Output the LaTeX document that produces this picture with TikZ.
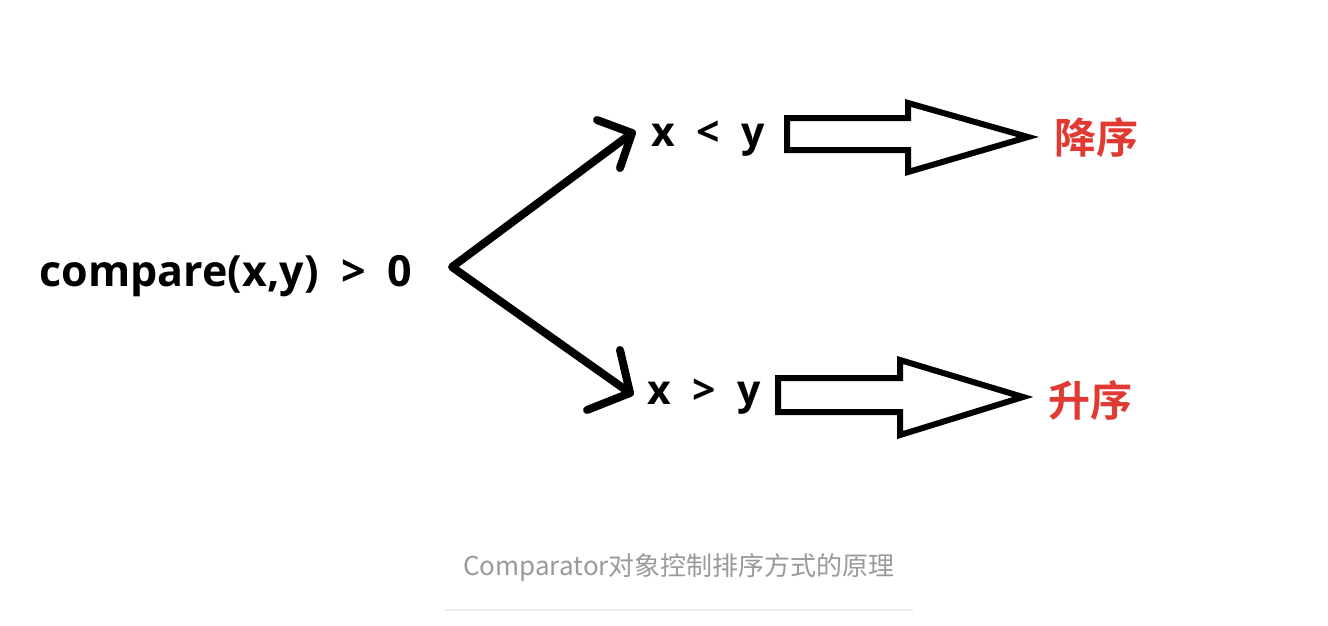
\documentclass[tikz,border=0pt]{standalone}
\usepackage{fontspec}
\setmainfont{Open Sans}
\newfontfamily\cjkb{Noto Sans CJK SC}[BoldFont={* Bold}]
\newfontfamily\cjk{Noto Sans CJK SC}
\definecolor{redtxt}{HTML}{E03A33}
\definecolor{captxt}{HTML}{9A9A9A}
\definecolor{rulec}{HTML}{EDEDED}
\begin{document}
\begin{tikzpicture}[x=1pt,y=-1pt,
  mathtxt/.style={inner sep=0pt,anchor=center,font=\fontsize{43}{46}\selectfont\bfseries},
  smalltxt/.style={inner sep=0pt,anchor=center,font=\fontsize{41}{44}\selectfont\bfseries},
  resulttxt/.style={inner sep=0pt,anchor=center,text=redtxt,font=\cjkb\fontsize{42}{46}\selectfont\bfseries},
  linearrow/.style={line width=8pt,line cap=round,line join=round},
  blockarrow/.style={draw,line width=6pt,line join=miter,fill=white}]
\useasboundingbox (0,0) rectangle (1328,626);
\fill[white] (0,0) rectangle (1328,626);
% texts
\node[mathtxt] (cmp) at (226,276) {compare(x,y) \ > \ 0};
\node[smalltxt] (lt) at (708,139) {x \ < \ y};
\node[smalltxt] (gt) at (704,397) {x \ > \ y};
\node[resulttxt] (desc) at (1096,137) {降序};
\node[resulttxt] (asc) at (1090,400) {升序};
\node[inner sep=0pt,text=captxt,font=\cjk\fontsize{26}{29}\selectfont] (cap) at (679,567) {Comparator对象控制排序方式的原理};
% V arrows
\coordinate (v) at (452,267);
\coordinate (t1) at (632,133);
\coordinate (t2) at (630,393);
\draw[linearrow] (t1) -- (v) -- (t2);
\draw[linearrow] (597,120) -- (t1) -- (620,168);
\draw[linearrow] (620,350) -- (t2) -- (587,410);
% block arrows
\draw[blockarrow] (787,118) -- (908,118) -- (908,103) -- (1028,137) -- (908,172) -- (908,150) -- (787,150) -- cycle;
\draw[blockarrow] (778,378) -- (900,378) -- (900,360) -- (1023,397) -- (900,435) -- (900,412) -- (778,412) -- cycle;
% rule
\draw[rulec,line width=1.5pt] (445,610) -- (913,610);
\end{tikzpicture}
\end{document}
